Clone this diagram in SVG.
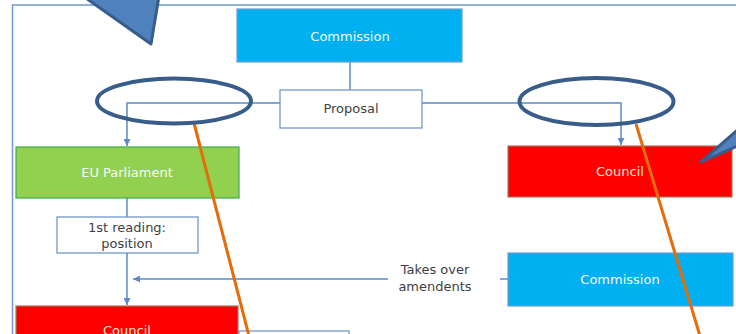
<svg xmlns="http://www.w3.org/2000/svg" width="736" height="334" viewBox="0 0 736 334">
  <defs>
    <style>
      .lbl { font-family: "DejaVu Sans", "Liberation Sans", sans-serif; font-size: 13px; text-anchor: middle; }
      .light { fill: #F4FAFF; }
      .dark { fill: #3F3F3F; }
      .red-txt { fill: #FFE6CC; }
      .conn { stroke: #5B8AC6; stroke-width: 1.5; fill: none; }
      .blue-box { fill: #00B0F0; stroke: #6E9BD0; stroke-width: 1.2; }
      .white-box { fill: #FFFFFF; stroke: #6690C8; stroke-width: 1.2; }
      .green-box { fill: #92D050; stroke: #3DAA50; stroke-width: 1.2; }
      .red-box { fill: #FF0000; stroke: #A0785A; stroke-width: 1.2; }
      .ring { fill: none; stroke: #385D8A; stroke-width: 4; }
      .pointer { stroke: #E46C0A; stroke-width: 3; }
      .callout { fill: #4F81BD; stroke: #385D8A; stroke-width: 3; stroke-linejoin: round; }
    </style>
    <marker id="arrow" viewBox="0 0 10 10" refX="10" refY="5" markerWidth="7" markerHeight="7" markerUnits="userSpaceOnUse" orient="auto">
      <path d="M0,0 L10,5 L0,10 Z" fill="#5B8AC6"/>
    </marker>
  </defs>

  <!-- outer frame -->
  <path d="M12.5,334 L12.5,5 L736,5" fill="none" stroke="#6E9BD0" stroke-width="1.5"/>

  <!-- connectors -->
  <g id="connectors">
    <line class="conn" x1="350" y1="62" x2="350" y2="90"/>
    <path class="conn" d="M280,103 L127,103 L127,146" marker-end="url(#arrow)"/>
    <path class="conn" d="M422,103 L621,103 L621,145" marker-end="url(#arrow)"/>
    <line class="conn" x1="127" y1="198" x2="127" y2="217"/>
    <line class="conn" x1="127" y1="253" x2="127" y2="305" marker-end="url(#arrow)"/>
    <line class="conn" x1="388" y1="279" x2="133" y2="279" marker-end="url(#arrow)"/>
    <line class="conn" x1="500" y1="279" x2="508" y2="279"/>
  </g>

  <g id="commission-top">
    <rect class="blue-box" x="237" y="9" width="225" height="53"/>
    <text class="lbl light" x="350" y="41">Commission</text>
  </g>

  <g id="proposal">
    <rect class="white-box" x="280" y="90" width="142" height="38"/>
    <text class="lbl dark" x="351" y="113">Proposal</text>
  </g>

  <g id="eu-parliament">
    <rect class="green-box" x="16" y="147" width="223" height="51"/>
    <text class="lbl light" x="127" y="177">EU Parliament</text>
  </g>

  <g id="council-right">
    <rect class="red-box" x="508" y="146" width="224" height="51"/>
    <text class="lbl red-txt" x="620" y="176">Council</text>
  </g>

  <g id="first-reading">
    <rect class="white-box" x="57" y="217" width="141" height="36"/>
    <text class="lbl dark" x="127" y="232">1st reading:</text>
    <text class="lbl dark" x="127" y="248">position</text>
  </g>

  <g id="takes-over">
    <text class="lbl dark" x="435" y="274">Takes over</text>
    <text class="lbl dark" x="435" y="291">amendents</text>
  </g>

  <g id="commission-right">
    <rect class="blue-box" x="508" y="253" width="225" height="53"/>
    <text class="lbl light" x="620" y="284">Commission</text>
  </g>

  <g id="council-bottom">
    <rect class="red-box" x="16" y="306" width="222" height="40"/>
    <text class="lbl red-txt" x="127" y="335">Council</text>
  </g>

  <g id="next-step">
    <rect class="white-box" x="239" y="331" width="110" height="20"/>
  </g>

  <!-- highlight rings and pointer lines -->
  <g id="annotations">
    <line class="pointer" x1="194" y1="123" x2="249" y2="336"/>
    <line class="pointer" x1="636" y1="124" x2="700" y2="336"/>
    <ellipse class="ring" cx="174" cy="101" rx="77" ry="22.5"/>
    <ellipse class="ring" cx="596.5" cy="101.5" rx="77" ry="23.5"/>
    <polygon class="callout" points="83,-4 151,44 159,-4"/>
    <polygon class="callout" points="701,162 742,126 742,144"/>
  </g>
</svg>
